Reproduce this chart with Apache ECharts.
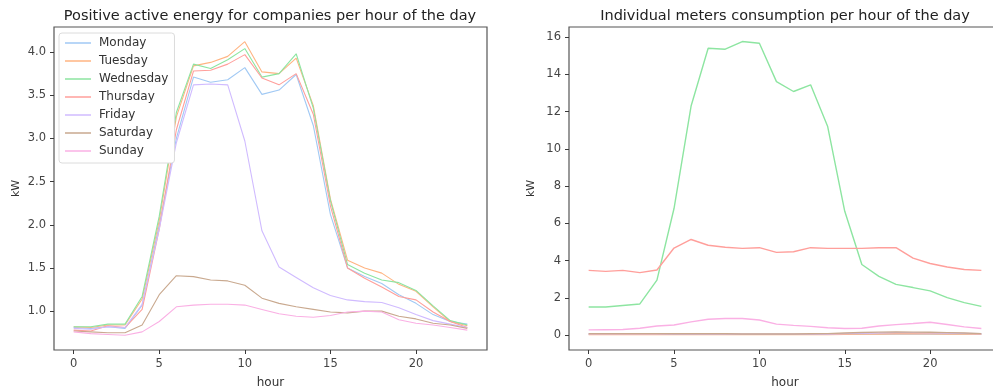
<!DOCTYPE html>
<html>
<head>
<meta charset="utf-8">
<script src="https://cdn.jsdelivr.net/npm/echarts@6/dist/echarts.min.js"></script>
<style>
  html, body { margin: 0; padding: 0; background: #fff; }
  #chart { width: 993px; height: 390px; }
</style>
</head>
<body>
<div id="chart"></div>
<script>
// hours of the day
const hours = [0,1,2,3,4,5,6,7,8,9,10,11,12,13,14,15,16,17,18,19,20,21,22,23];

// left chart: positive active energy per weekday (kW)
const monday    = [0.81,0.80,0.82,0.80,1.07,2.00,3.00,3.71,3.65,3.68,3.82,3.51,3.56,3.74,3.15,2.12,1.50,1.40,1.32,1.19,1.09,0.96,0.88,0.85];
const tuesday   = [0.82,0.81,0.84,0.84,1.14,2.05,3.25,3.84,3.88,3.95,4.12,3.77,3.75,3.93,3.38,2.30,1.59,1.50,1.44,1.31,1.23,1.05,0.88,0.83];
const wednesday = [0.82,0.82,0.85,0.85,1.17,2.10,3.30,3.86,3.81,3.91,4.04,3.71,3.75,3.98,3.35,2.28,1.54,1.44,1.36,1.33,1.24,1.06,0.89,0.84];
const thursday  = [0.78,0.77,0.83,0.81,1.02,1.95,3.10,3.78,3.79,3.86,3.97,3.70,3.62,3.75,3.28,2.22,1.50,1.38,1.28,1.17,1.13,0.99,0.88,0.81];
const friday    = [0.80,0.79,0.82,0.81,1.08,1.95,2.95,3.62,3.63,3.62,2.97,1.93,1.51,1.39,1.27,1.18,1.13,1.11,1.10,1.04,0.96,0.89,0.85,0.81];
const saturday  = [0.77,0.76,0.75,0.75,0.84,1.19,1.41,1.40,1.36,1.35,1.30,1.15,1.09,1.05,1.02,0.99,0.98,1.00,1.00,0.94,0.91,0.86,0.84,0.80];
const sunday    = [0.76,0.74,0.73,0.72,0.76,0.88,1.05,1.07,1.08,1.08,1.07,1.02,0.97,0.94,0.93,0.95,0.99,1.00,0.99,0.90,0.86,0.84,0.81,0.78];

// right chart: individual meters (kW)
const meterBlue   = [0.06,0.06,0.06,0.06,0.06,0.06,0.05,0.05,0.05,0.05,0.05,0.05,0.05,0.05,0.05,0.06,0.06,0.07,0.07,0.07,0.07,0.07,0.06,0.06];
const meterOrange = [0.04,0.04,0.04,0.04,0.04,0.04,0.04,0.04,0.04,0.04,0.04,0.04,0.04,0.04,0.04,0.05,0.06,0.07,0.08,0.08,0.08,0.07,0.06,0.05];
const meterGreen  = [1.52,1.52,1.60,1.68,2.96,6.80,12.3,15.4,15.35,15.76,15.67,13.61,13.08,13.44,11.2,6.65,3.80,3.16,2.73,2.56,2.38,2.02,1.75,1.55];
const meterRed    = [3.48,3.43,3.48,3.36,3.50,4.68,5.14,4.83,4.72,4.66,4.70,4.45,4.48,4.70,4.66,4.66,4.66,4.70,4.70,4.14,3.85,3.66,3.53,3.48];
const meterPurple = [0.08,0.08,0.08,0.08,0.08,0.07,0.07,0.07,0.07,0.06,0.06,0.06,0.06,0.06,0.07,0.09,0.11,0.13,0.14,0.14,0.13,0.12,0.10,0.08];
const meterBrown  = [0.09,0.09,0.09,0.09,0.09,0.08,0.08,0.08,0.08,0.07,0.07,0.07,0.07,0.08,0.09,0.12,0.15,0.17,0.18,0.17,0.16,0.14,0.12,0.09];
const meterPink   = [0.29,0.30,0.31,0.38,0.50,0.55,0.72,0.86,0.90,0.90,0.82,0.60,0.53,0.48,0.40,0.36,0.38,0.50,0.57,0.63,0.70,0.58,0.45,0.36];

// tick labels
const xTicks = [0,5,10,15,20];
const leftYTicks = [1.0,1.5,2.0,2.5,3.0,3.5,4.0];
const rightYTicks = [0,2,4,6,8,10,12,14,16];

const dayNames = ['Monday','Tuesday','Wednesday','Thursday','Friday','Saturday','Sunday'];
const dayData = [monday, tuesday, wednesday, thursday, friday, saturday, sunday];
const meterData = [meterBlue, meterOrange, meterGreen, meterRed, meterPurple, meterBrown, meterPink];
const palette = ['#a1c9f4','#ffb482','#8de5a1','#ff9f9b','#d0bbff','#c9a98f','#fab0e4'];

const chart = echarts.init(document.getElementById('chart'), null, { renderer: 'canvas' });

const font = 'DejaVu Sans';
const axisCol = '#3a3a3a';

function xAx(gridIndex) {
  return {
    type: 'value', gridIndex: gridIndex, min: -1.15, max: 24.15,
    name: 'hour', nameLocation: 'middle', nameGap: 27,
    nameTextStyle: { color: '#333', fontSize: 12, fontFamily: font },
    axisLine: { show: false, onZero: false },
    splitLine: { show: false },
    axisTick: { show: true, inside: false, length: 4, customValues: xTicks, lineStyle: { color: axisCol } },
    axisLabel: { customValues: xTicks, color: '#444', fontSize: 11.5, fontFamily: font, margin: 8 }
  };
}
function yAx(gridIndex, min, max, ticks, dec, gap) {
  return {
    type: 'value', gridIndex: gridIndex, min: min, max: max,
    name: 'kW', nameLocation: 'middle', nameGap: gap, nameRotate: 90,
    nameTextStyle: { color: '#333', fontSize: 11, fontFamily: font },
    axisLine: { show: false, onZero: false },
    splitLine: { show: false },
    axisTick: { show: true, inside: false, length: 4, customValues: ticks, lineStyle: { color: axisCol } },
    axisLabel: { customValues: ticks, color: '#444', fontSize: 11.5, fontFamily: font, margin: 8,
      formatter: v => v.toFixed(dec) }
  };
}

let series = [];
dayData.forEach((d, i) => {
  series.push({
    name: dayNames[i], type: 'line', xAxisIndex: 0, yAxisIndex: 0,
    data: hours.map((h, k) => [h, d[k]]),
    symbol: 'none', lineStyle: { width: 1.1, color: palette[i] }, itemStyle: { color: palette[i] },
    silent: true
  });
});
meterData.forEach((d, i) => {
  series.push({
    name: 'meter' + i, type: 'line', xAxisIndex: 1, yAxisIndex: 1,
    data: hours.map((h, k) => [h, d[k]]),
    symbol: 'none', lineStyle: { width: 1.4, color: palette[i] }, itemStyle: { color: palette[i] },
    silent: true
  });
});

const option = {
  animation: false,
  backgroundColor: '#fff',
  title: [
    { text: 'Positive active energy for companies per hour of the day', left: 265, top: 4, textAlign: 'center',
      textStyle: { color: '#222', fontSize: 14.5, fontWeight: 'normal', fontFamily: font } },
    { text: 'Individual meters consumption per hour of the day', left: 780, top: 4, textAlign: 'center',
      textStyle: { color: '#222', fontSize: 14.5, fontWeight: 'normal', fontFamily: font } }
  ],
  legend: {
    data: dayNames, orient: 'vertical', left: 59, top: 33,
    icon: 'rect', itemWidth: 26, itemHeight: 1.5, itemGap: 6,
    padding: [4, 6, 6, 6],
    backgroundColor: '#fff', borderColor: '#dcdcdc', borderWidth: 1, borderRadius: 3,
    textStyle: { color: '#333', fontSize: 12, fontFamily: font, padding: [0, 0, 0, 3] }
  },
  grid: [
    { left: 54, right: 506, top: 27, bottom: 40, show: true, borderColor: '#555', borderWidth: 1.2,
      backgroundColor: 'transparent', containLabel: false, outerBoundsMode: 'none' },
    { left: 569, right: -8, top: 27, bottom: 40, show: true, borderColor: '#555', borderWidth: 1.2,
      backgroundColor: 'transparent', containLabel: false, outerBoundsMode: 'none' }
  ],
  xAxis: [xAx(0), xAx(1)],
  yAxis: [yAx(0, 0.55, 4.29, leftYTicks, 1, 32), yAx(1, -0.79, 16.54, rightYTicks, 0, 32)],
  series: series
};

chart.setOption(option);
</script>
</body>
</html>
